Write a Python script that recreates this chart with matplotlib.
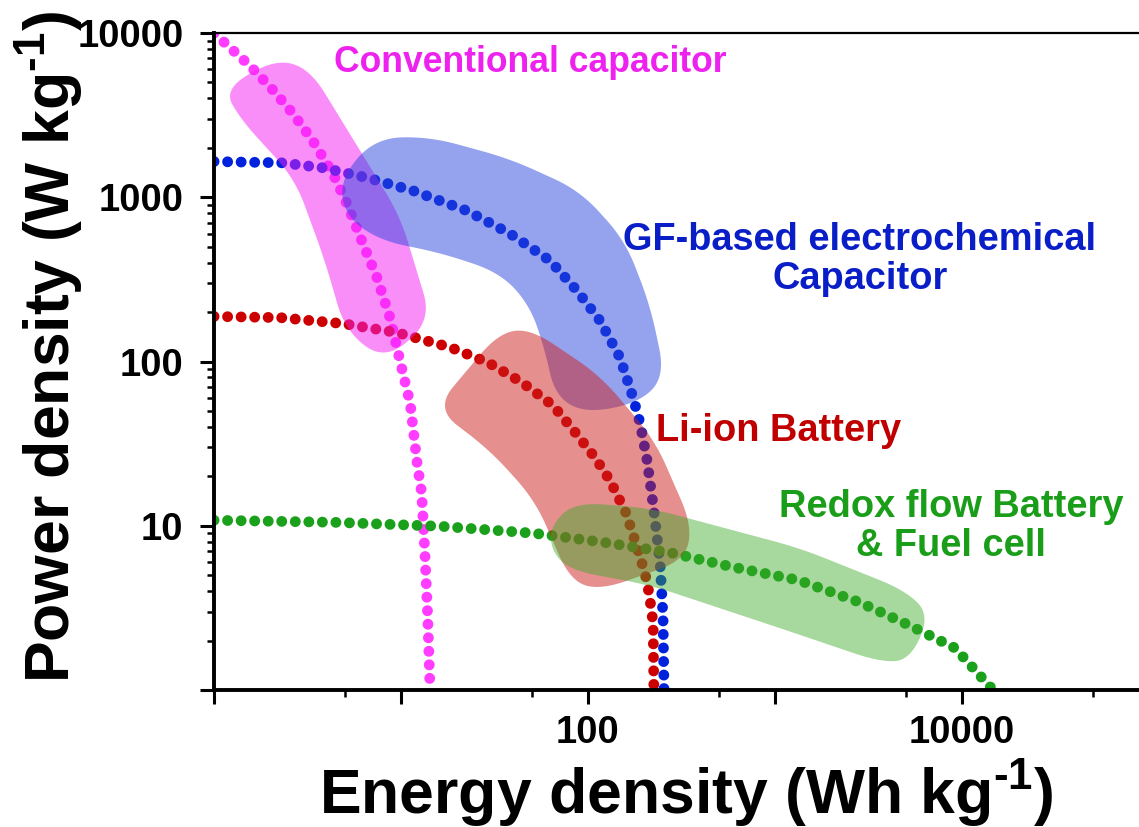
import numpy as np
import matplotlib
matplotlib.use("Agg")
import matplotlib.pyplot as plt
from matplotlib.ticker import FixedLocator, FixedFormatter

plt.rcParams['font.family'] = ['Liberation Sans', 'DejaVu Sans']
plt.rcParams['font.weight'] = 'bold'
plt.rcParams['mathtext.fontset'] = 'custom'
plt.rcParams['mathtext.rm'] = 'Liberation Sans:bold'
plt.rcParams['mathtext.it'] = 'Liberation Sans:bold'
plt.rcParams['mathtext.bf'] = 'Liberation Sans:bold'

# ---------------- data (Energy density Wh/kg, Power density W/kg) ----------------
conv_E = [1.0, 1.56, 2.04, 2.65, 3.38, 4.33, 5.14, 6.26, 7.44, 8.73, 9.88, 10.25, 11.2, 12.2, 12.9, 13.4, 13.9, 14.3]
conv_P = [10000, 6300, 4570, 3220, 2200, 1390, 912, 521, 324, 185, 101, 84.5, 55.6, 24, 15.8, 7.1, 2.78, 1.0]

gf_E = [1.0, 2.31, 3.83, 6.58, 11.6, 22.5, 38.3, 62.7, 87.3, 116, 148, 174, 190, 207, 225, 243, 252, 255]
gf_P = [1650, 1620, 1511, 1315, 1096, 828, 600, 411, 270, 177, 106, 60.5, 42, 25, 12.4, 5.9, 2.78, 1.0]

li_E = [1.0, 2.25, 4.9, 9.5, 18.3, 29.2, 44.4, 65, 86.3, 109, 131, 160, 183, 202, 212, 223, 225]
li_P = [188, 185, 170, 150, 122, 98.6, 74.5, 54, 36.5, 26, 18.9, 11.9, 7.4, 5.1, 3.9, 2.55, 1.0]

rf_E = [1.0, 4.33, 16.2, 51.4, 120, 268, 596, 1327, 2813, 5210, 9180, 14650]
rf_P = [10.8, 10.5, 9.93, 9.0, 7.94, 6.9, 5.6, 4.67, 3.43, 2.48, 1.8, 1.0]

# shaded regions (outline vertices, data units)
conv_reg_E = [1.13, 2.12, 3.26, 9.88, 14.6, 8.21, 5.02, 3.92, 2.71, 1.38]
conv_reg_P = [4570, 6950, 6040, 772, 178, 101, 154, 411, 1295, 3000]

gf_reg_E = [4.72, 7.26, 14.3, 38.3, 90.6, 158, 215, 258, 190, 96.4, 66.6, 58.9, 49.0, 33.8, 16.2, 7.72, 5.02]
gf_reg_P = [1295, 2300, 2333, 1714, 1096, 544, 219, 82.2, 56.3, 48.3, 62.1, 117, 219, 348, 460, 544, 772]

li_reg_E = [15.2, 33.0, 49.0, 116, 228, 360, 330, 116, 80.1, 52.1, 29.9]
li_reg_P = [51.8, 148, 159, 82.2, 33.1, 10.1, 6.17, 4.05, 4.66, 14.3, 28.8]

rf_reg_E = [63.4, 85.2, 215, 1361, 4955, 6745, 5270, 3641, 1064, 215, 80.1, 63.4]
rf_reg_P = [10.1, 13.9, 12.8, 7.3, 4.05, 2.86, 1.52, 1.48, 2.38, 4.35, 5.36, 7.1]

x_major = [1, 10, 100, 1000, 10000, 100000]
x_major_labels = ["", "", "100", "", "10000", ""]
x_minor = [5, 50, 500, 5000, 50000]
y_major = [1, 10, 100, 1000, 10000]
y_major_labels = ["", "10", "100", "1000", "10000"]

# ---------------- figure ----------------
W, H = 1139, 827
fig = plt.figure(figsize=(W / 100, H / 100), dpi=100)
ax = fig.add_axes([214 / W, (H - 690) / H, 935 / W, 657 / H])
ax.set_xscale('log')
ax.set_yscale('log')
ax.set_xlim(1, 1e5)
ax.set_ylim(1, 1e4)

ax.xaxis.set_major_locator(FixedLocator(x_major))
ax.xaxis.set_major_formatter(FixedFormatter(x_major_labels))
ax.xaxis.set_minor_locator(FixedLocator(x_minor))
ax.xaxis.set_minor_formatter(FixedFormatter([""] * len(x_minor)))
ax.yaxis.set_major_locator(FixedLocator(y_major))
ax.yaxis.set_major_formatter(FixedFormatter(y_major_labels))
ax.yaxis.set_minor_locator(matplotlib.ticker.LogLocator(base=10, subs=np.arange(2, 10)))
ax.yaxis.set_minor_formatter(matplotlib.ticker.NullFormatter())

for s in ['left', 'bottom']:
    ax.spines[s].set_linewidth(2.8)
ax.spines['top'].set_linewidth(1.6)
ax.spines['right'].set_visible(False)
ax.tick_params(which='major', length=10, width=2.2, direction='out', labelsize=27.5)
ax.tick_params(which='minor', length=5, width=1.8, direction='out')
ax.tick_params(axis='y', which='major', pad=12)
ax.tick_params(axis='x', which='major', pad=8)
for lab in ax.get_xticklabels() + ax.get_yticklabels():
    lab.set_fontweight('bold')

fig.canvas.draw()

# dotted curves
dot = dict(lw=7.8, linestyle=(0, (0.01, 1.24)), dash_capstyle='round', zorder=2)
ax.plot(conv_E, conv_P, color='#FF3CFF', **dot)
ax.plot(gf_E, gf_P, color='#0022DD', **dot)
ax.plot(li_E, li_P, color='#CC0000', **dot)
ax.plot(rf_E, rf_P, color='#1AA01A', **dot)


def rounded_outline(E, P, cut=28, n=14):
    pts = ax.transData.transform(np.column_stack([E, P]))
    m = len(pts)
    out = []
    t = np.linspace(0, 1, n)[:, None]
    for i in range(m):
        prev, cur, nxt = pts[i - 1], pts[i], pts[(i + 1) % m]
        d1, d2 = prev - cur, nxt - cur
        l1, l2 = np.hypot(*d1), np.hypot(*d2)
        c1, c2 = min(cut, l1 / 2), min(cut, l2 / 2)
        a = cur + d1 / l1 * c1
        b = cur + d2 / l2 * c2
        out.append((1 - t) ** 2 * a + 2 * (1 - t) * t * cur + t ** 2 * b)
    poly = np.vstack(out)
    return ax.transData.inverted().transform(poly)


regions = [
    (conv_reg_E, conv_reg_P, '#F51EF5', 0.5),
    (gf_reg_E, gf_reg_P, '#2D46DC', 0.5),
    (li_reg_E, li_reg_P, '#CD2020', 0.5),
    (rf_reg_E, rf_reg_P, '#3CAA28', 0.45),
]
for E, P, c, a in regions:
    poly = rounded_outline(E, P)
    ax.fill(poly[:, 0], poly[:, 1], color=c, alpha=a, lw=0, zorder=3)

# annotations
ax.text(49, 6575, "Conventional capacitor", color='#EE22EE', fontsize=25.6,
        fontweight='bold', ha='center', va='center', zorder=5)
ax.text(2850, 417, "GF-based electrochemical\nCapacitor", color='#0A1EC8', fontsize=27.4,
        fontweight='bold', ha='center', va='center', multialignment='center',
        linespacing=1.1, zorder=5)
ax.text(1050, 38, "Li-ion Battery", color='#C00000', fontsize=27.4,
        fontweight='bold', ha='center', va='center', zorder=5)
ax.text(8730, 9.93, "Redox flow Battery\n& Fuel cell", color='#1A9E1A', fontsize=27.4,
        fontweight='bold', ha='center', va='center', multialignment='center',
        linespacing=1.1, zorder=5)

# axis labels
fig.text(686 / W, (H - 813) / H, r"Energy density (Wh kg$^{\text{-1}}$)", fontsize=45,
         fontweight='bold', ha='center', va='baseline')
fig.text(69 / W, (H - 347) / H, r"Power density (W kg$^{\text{-1}}$)", fontsize=45,
         fontweight='bold', ha='center', va='baseline', rotation=90,
         rotation_mode='anchor')

fig.savefig("out.png", dpi=100)
